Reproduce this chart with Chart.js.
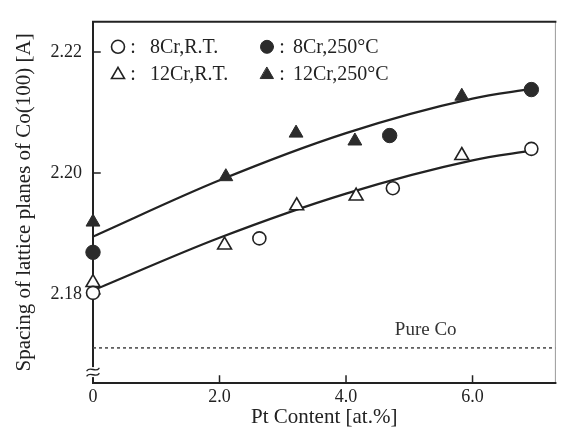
<!DOCTYPE html>
<html>
<head>
<meta charset="utf-8">
<script src="https://cdn.jsdelivr.net/npm/chart.js@4.4.1/dist/chart.umd.min.js"></script>
<style>
  html, body { margin: 0; padding: 0; background: #fff; }
  #wrap { width: 565px; height: 434px; }
</style>
</head>
<body>
<div id="wrap"><canvas id="c"></canvas></div>
<script>
// Pt content [at.%] and Co(100) lattice spacing [A] for each alloy / temperature
const ptRT8 = [0, 2.63, 4.74, 6.93];
const spRT8 = [2.1802, 2.1892, 2.1975, 2.2040];
const ptRT12 = [0, 2.08, 3.22, 4.16, 5.83];
const spRT12 = [2.1819, 2.1881, 2.1946, 2.1962, 2.2029];
const ptHot8 = [0, 4.69, 6.93];
const spHot8 = [2.1869, 2.2062, 2.2138];
const ptHot12 = [0, 2.10, 3.21, 4.14, 5.83];
const spHot12 = [2.1919, 2.1994, 2.2066, 2.2053, 2.2127];

// smooth trend curves through each group
const fitPt = [0, 2, 4, 6, 6.93];
const fitHot = [2.1895, 2.1988, 2.2066, 2.2123, 2.2139];
const fitRT = [2.1806, 2.1893, 2.1966, 2.2021, 2.2037];

// reference spacing of pure cobalt
const pureCo = 2.1711;

const xTicks = [0, 2, 4, 6];
const yTicks = [2.18, 2.20, 2.22];
const legendLabels = ['8Cr,R.T.', '12Cr,R.T.', '8Cr,250°C', '12Cr,250°C'];

const SERIF = '"Liberation Serif", "DejaVu Serif", serif';
const INK = '#222';
const FILL = '#2b2b2b';

const pts = (xs, ys) => xs.map((x, i) => ({ x, y: ys[i] }));

const markerSets = [
  { label: legendLabels[0], data: pts(ptRT8, spRT8), pointStyle: 'circle', pointRadius: 6.5,
    backgroundColor: '#fff', borderColor: INK, borderWidth: 1.6 },
  { label: legendLabels[2], data: pts(ptHot8, spHot8), pointStyle: 'circle', pointRadius: 7.2,
    backgroundColor: FILL, borderColor: FILL, borderWidth: 1 },
  { label: legendLabels[1], data: pts(ptRT12, spRT12), pointStyle: 'triangle', pointRadius: 8,
    backgroundColor: '#fff', borderColor: INK, borderWidth: 1.6 },
  { label: legendLabels[3], data: pts(ptHot12, spHot12), pointStyle: 'triangle', pointRadius: 8,
    backgroundColor: FILL, borderColor: FILL, borderWidth: 1 }
];
markerSets.forEach(d => { d.showLine = false; d.clip = false; d.pointHoverRadius = d.pointRadius; });

const lineSets = [
  { data: pts(fitPt, fitHot), showLine: true, borderColor: INK, borderWidth: 2.2, pointRadius: 0,
    cubicInterpolationMode: 'monotone', fill: false },
  { data: pts(fitPt, fitRT), showLine: true, borderColor: INK, borderWidth: 2.2, pointRadius: 0,
    cubicInterpolationMode: 'monotone', fill: false },
  { data: [{ x: 0, y: pureCo }, { x: 7.31, y: pureCo }], showLine: true, borderColor: '#444',
    borderWidth: 1.5, borderDash: [3, 3], pointRadius: 0, fill: false }
];

// frame, inward tick marks, legend, axis break and the "Pure Co" note
const decor = {
  id: 'decor',
  beforeDatasetsDraw(chart) {
    const { ctx, chartArea: a, scales: { x, y } } = chart;
    ctx.save();
    ctx.lineCap = 'square';
    ctx.strokeStyle = '#9a9a9a';
    ctx.lineWidth = 1;
    ctx.beginPath(); ctx.moveTo(a.right, a.top); ctx.lineTo(a.right, a.bottom); ctx.stroke();
    ctx.strokeStyle = INK;
    ctx.lineWidth = 2;
    ctx.beginPath();
    ctx.moveTo(a.right, a.top); ctx.lineTo(a.left, a.top);
    ctx.lineTo(a.left, a.bottom); ctx.lineTo(a.right, a.bottom);
    ctx.stroke();
    ctx.lineWidth = 1.5;
    ctx.beginPath();
    xTicks.forEach(v => { const px = x.getPixelForValue(v); ctx.moveTo(px, a.bottom); ctx.lineTo(px, a.bottom - 7); });
    yTicks.forEach(v => { const py = y.getPixelForValue(v); ctx.moveTo(a.left, py); ctx.lineTo(a.left + 7, py); });
    ctx.stroke();
    ctx.restore();
  },
  afterDatasetsDraw(chart) {
    const { ctx, chartArea: a, scales: { x, y } } = chart;
    ctx.save();
    // axis break on the value axis: two stacked tildes
    const yb = y.getPixelForValue(2.1671);
    ctx.fillStyle = '#fff';
    ctx.fillRect(a.left - 2, yb - 5, 4, 10);
    ctx.strokeStyle = INK;
    ctx.lineWidth = 1.4;
    ctx.lineCap = 'round';
    [-2.6, 2.6].forEach(dy => {
      const cy = yb + dy;
      ctx.beginPath();
      ctx.moveTo(a.left - 6, cy + 1.2);
      ctx.bezierCurveTo(a.left - 3, cy - 3.5, a.left + 3, cy + 3.5, a.left + 6, cy - 1.2);
      ctx.stroke();
    });

    // Pure Co note above the dotted reference line
    ctx.font = '19px ' + SERIF;
    ctx.fillStyle = '#333';
    ctx.textAlign = 'center';
    ctx.textBaseline = 'middle';
    ctx.fillText('Pure Co', x.getPixelForValue(5.26), y.getPixelForValue(pureCo) - 18);

    // two-by-two legend in the upper left corner
    const cols = [{ sx: a.left + 25, cx: a.left + 40, tx: a.left + 57 },
                  { sx: a.left + 174, cx: a.left + 189, tx: a.left + 200 }];
    const rows = [a.top + 25, a.top + 52];
    const order = [[0, 1], [2, 3]];
    ctx.textAlign = 'left';
    order.forEach((row, r) => row.forEach((di, c) => {
      const ds = chart.data.datasets[di];
      const col = cols[c], cy = rows[r];
      ctx.fillStyle = ds.backgroundColor;
      ctx.strokeStyle = ds.borderColor;
      ctx.lineWidth = ds.borderWidth;
      Chart.helpers.drawPoint(ctx, {
        pointStyle: ds.pointStyle, radius: ds.pointStyle === 'circle' ? 6.5 : 7.5,
        rotation: 0, borderWidth: ds.borderWidth
      }, col.sx, cy + (ds.pointStyle === 'triangle' ? 1 : 0));
      ctx.fillStyle = INK;
      ctx.font = '20px ' + SERIF;
      ctx.textAlign = 'center';
      ctx.fillText(':', col.cx, cy + 1);
      ctx.textAlign = 'left';
      ctx.fillText(ds.label, col.tx, cy + 1);
    }));
    ctx.restore();
  }
};

Chart.defaults.font.family = SERIF;
Chart.defaults.color = INK;

new Chart(document.getElementById('c'), {
  type: 'scatter',
  data: { datasets: [...markerSets, ...lineSets] },
  options: {
    responsive: true,
    maintainAspectRatio: false,
    devicePixelRatio: 1,
    animation: false,
    events: [],
    layout: { padding: { left: 0, right: 8, top: 13, bottom: 0 } },
    plugins: { legend: { display: false }, tooltip: { enabled: false } },
    scales: {
      x: {
        type: 'linear', min: 0, max: 7.31,
        afterBuildTicks: s => { s.ticks = xTicks.map(v => ({ value: v })); },
        afterFit: s => { s.height = 51; },
        grid: { display: false, drawTicks: false },
        border: { display: false },
        ticks: {
          padding: 3, font: { size: 18 }, color: INK,
          callback: v => (v === 0 ? '0' : v.toFixed(1))
        },
        title: { display: true, text: 'Pt Content [at.%]', font: { size: 21 }, color: INK,
          padding: { top: 0, bottom: 4 } }
      },
      y: {
        type: 'linear', min: 2.1653, max: 2.225,
        afterBuildTicks: s => { s.ticks = yTicks.map(v => ({ value: v })); },
        afterFit: s => { s.width = 93; },
        grid: { display: false, drawTicks: false },
        border: { display: false },
        ticks: {
          padding: 11, font: { size: 18 }, color: INK,
          callback: v => v.toFixed(2)
        },
        title: { display: true, text: 'Spacing of lattice planes of Co(100) [A]', font: { size: 21 }, color: INK,
          padding: { top: 12, bottom: 0 } }
      }
    }
  },
  plugins: [decor]
});
</script>
</body>
</html>
